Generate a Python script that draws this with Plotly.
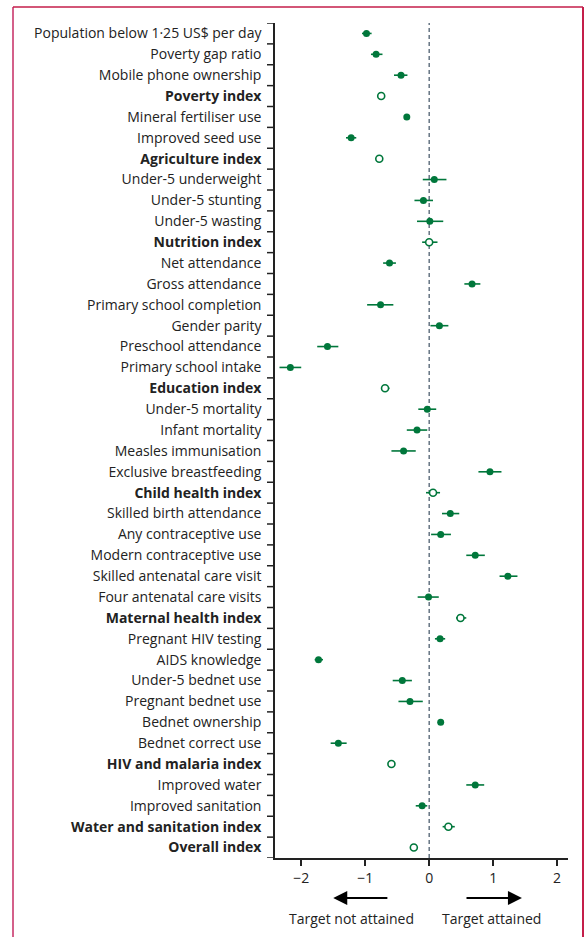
import plotly.graph_objects as go

# Indicators, top to bottom
labels = [
    "Population below 1·25 US$ per day", "Poverty gap ratio", "Mobile phone ownership", "Poverty index",
    "Mineral fertiliser use", "Improved seed use", "Agriculture index",
    "Under-5 underweight", "Under-5 stunting", "Under-5 wasting", "Nutrition index",
    "Net attendance", "Gross attendance", "Primary school completion", "Gender parity",
    "Preschool attendance", "Primary school intake", "Education index",
    "Under-5 mortality", "Infant mortality", "Measles immunisation", "Exclusive breastfeeding",
    "Child health index",
    "Skilled birth attendance", "Any contraceptive use", "Modern contraceptive use",
    "Skilled antenatal care visit", "Four antenatal care visits", "Maternal health index",
    "Pregnant HIV testing", "AIDS knowledge", "Under-5 bednet use", "Pregnant bednet use",
    "Bednet ownership", "Bednet correct use", "HIV and malaria index",
    "Improved water", "Improved sanitation", "Water and sanitation index", "Overall index",
]
is_index = [
    0, 0, 0, 1,
    0, 0, 1,
    0, 0, 0, 1,
    0, 0, 0, 0, 0, 0, 1,
    0, 0, 0, 0, 1,
    0, 0, 0, 0, 0, 1,
    0, 0, 0, 0, 0, 0, 1,
    0, 0, 1, 1,
]
estimate = [
    -0.98, -0.83, -0.44, -0.75,
    -0.35, -1.22, -0.78,
    0.08, -0.09, 0.01, 0.00,
    -0.62, 0.67, -0.76, 0.16, -1.59, -2.17, -0.69,
    -0.03, -0.19, -0.40, 0.95, 0.06,
    0.33, 0.18, 0.72, 1.23, -0.01, 0.49,
    0.17, -1.73, -0.42, -0.30, 0.18, -1.42, -0.59,
    0.72, -0.11, 0.30, -0.24,
]
lower = [
    -1.05, -0.91, -0.55, -0.80,
    -0.37, -1.30, -0.78,
    -0.10, -0.23, -0.19, -0.11,
    -0.72, 0.55, -0.97, 0.02, -1.75, -2.34, -0.75,
    -0.17, -0.35, -0.59, 0.77, -0.05,
    0.20, 0.03, 0.58, 1.10, -0.18, 0.42,
    0.09, -1.79, -0.57, -0.48, 0.16, -1.54, -0.59,
    0.58, -0.21, 0.21, -0.24,
]
upper = [
    -0.90, -0.73, -0.34, -0.70,
    -0.33, -1.14, -0.78,
    0.27, 0.06, 0.22, 0.13,
    -0.52, 0.80, -0.56, 0.30, -1.42, -2.00, -0.62,
    0.11, -0.03, -0.21, 1.13, 0.17,
    0.47, 0.34, 0.87, 1.38, 0.15, 0.58,
    0.25, -1.66, -0.27, -0.10, 0.20, -1.29, -0.59,
    0.86, -0.03, 0.40, -0.24,
]
x_ticks = [-2, -1, 0, 1, 2]

GREEN = "#00773b"
INK = "#222222"
FONT = "Open Sans"

n = len(labels)
rows = list(range(n))
ticktext = [f"<b>{s}</b>" if b else s for s, b in zip(labels, is_index)]

W, H = 587, 937
L, R, T, B = 275, 19, 23, 79
pw, ph = W - L - R, H - T - B

def px_x(p):
    return (p - L) / pw

def px_y(p):
    return 1 - (p - T) / ph

fig = go.Figure()

for flag, fill in ((0, GREEN), (1, "white")):
    idx = [i for i, b in enumerate(is_index) if b == flag]
    fig.add_trace(go.Scatter(
        x=[estimate[i] for i in idx],
        y=[rows[i] for i in idx],
        mode="markers",
        marker=dict(size=7, color=fill, line=dict(color=GREEN, width=1.6 if flag else 0)),
        error_x=dict(
            type="data", symmetric=False,
            array=[upper[i] - estimate[i] for i in idx],
            arrayminus=[estimate[i] - lower[i] for i in idx],
            color=GREEN, thickness=1.6, width=0,
        ),
        showlegend=False,
        cliponaxis=False,
    ))

# tick marks on the row boundaries of the label axis
for b in range(n + 1):
    fig.add_shape(type="line", xref="paper", yref="y",
                  x0=-8 / pw, x1=0, y0=b - 0.5, y1=b - 0.5,
                  line=dict(color=INK, width=1.5))

# no-effect reference line
fig.add_shape(type="line", xref="x", yref="paper", x0=0, x1=0, y0=0, y1=1,
              line=dict(color="#4f6070", width=1.3, dash="4px,3px"), layer="below")

# direction arrows and captions
for tail, head in ((-0.63, -1.50), (0.56, 1.45)):
    fig.add_annotation(x=head, y=-0.048, xref="x", yref="paper",
                       ax=tail, ay=0, axref="x", ayref="pixel",
                       showarrow=True, arrowhead=2, arrowsize=1.4, arrowwidth=2,
                       arrowcolor="black", text="")
for xc, txt in ((-1.22, "Target not attained"), (0.98, "Target attained")):
    fig.add_annotation(x=xc, y=-0.072, xref="x", yref="paper", text=txt,
                       showarrow=False, font=dict(family=FONT, size=14, color=INK),
                       yanchor="middle")

# page frame
fig.add_shape(type="line", xref="paper", yref="paper",
              x0=px_x(13), x1=px_x(13), y0=px_y(7), y1=px_y(945),
              line=dict(color="#d4608a", width=2))
fig.add_shape(type="line", xref="paper", yref="paper",
              x0=px_x(13), x1=px_x(583), y0=px_y(7), y1=px_y(7),
              line=dict(color="#c41e4a", width=1.6))
fig.add_shape(type="line", xref="paper", yref="paper",
              x0=px_x(583), x1=px_x(583), y0=px_y(7), y1=px_y(945),
              line=dict(color="#c41e4a", width=2))

fig.update_layout(
    width=W, height=H,
    margin=dict(l=L, r=R, t=T, b=B),
    paper_bgcolor="white", plot_bgcolor="white",
    font=dict(family=FONT, size=14, color=INK),
    xaxis=dict(range=[-2.41, 2.17], tickvals=x_ticks, showgrid=False, zeroline=False,
               showline=True, linecolor=INK, linewidth=1.5,
               ticks="outside", ticklen=6, tickwidth=1.5, tickcolor=INK,
               tickfont=dict(size=14, color=INK)),
    yaxis=dict(range=[n - 0.5, -0.5], tickmode="array", tickvals=rows, ticktext=ticktext,
               ticks="", ticklabelstandoff=9, showgrid=False, zeroline=False,
               showline=True, linecolor=INK, linewidth=1.5,
               tickfont=dict(size=14, color=INK)),
)

fig.write_html("out.html")
